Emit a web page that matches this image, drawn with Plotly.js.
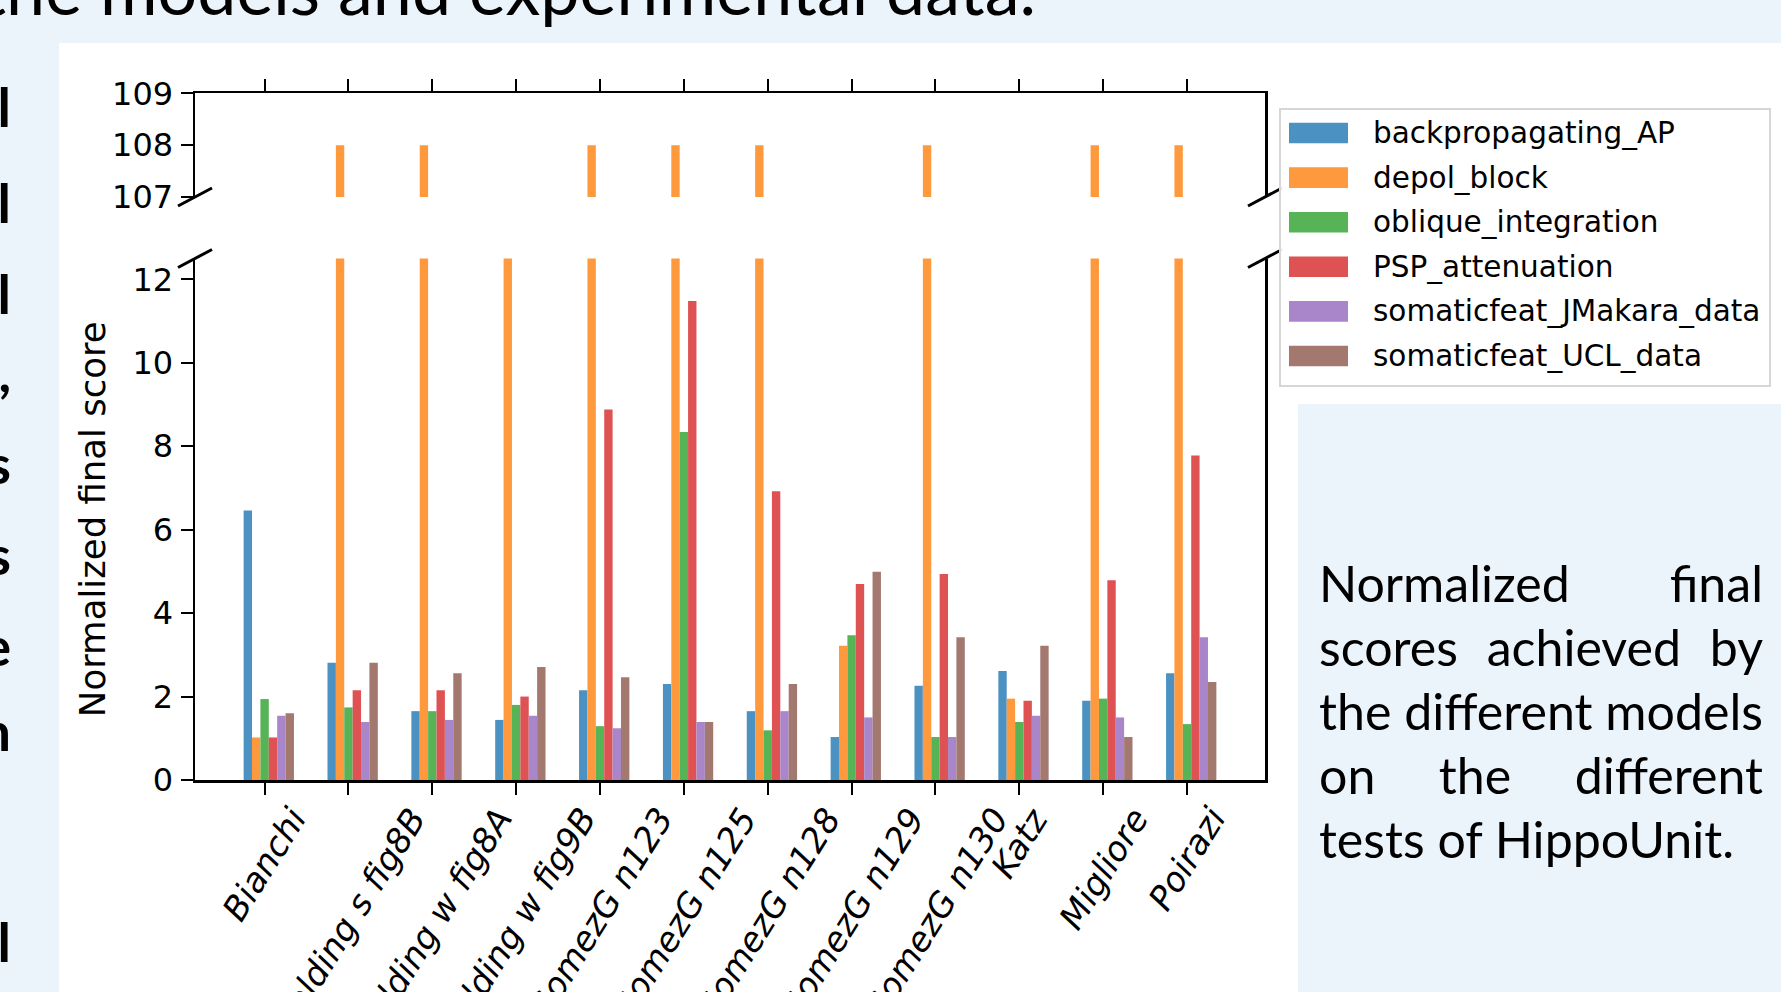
<!DOCTYPE html>
<html><head><meta charset="utf-8">
<script src="https://cdn.plot.ly/plotly-3.0.1.min.js"></script>
<style>
html,body{margin:0;padding:0;}
body{width:1781px;height:992px;overflow:hidden;position:relative;background:#EBF3FB;}
#chart{position:absolute;left:0;top:0;width:1781px;height:992px;}
.slide{position:absolute;font-family:Lato,'Noto Sans',sans-serif;color:#000;white-space:nowrap;}
</style></head><body>
<div id="chart"></div>
<script>
// ---------------- data ----------------
const categories = ['Bianchi','Golding s fig8B','Golding w fig8A','Golding w fig9B','GomezG n123','GomezG n125','GomezG n128','GomezG n129','GomezG n130','Katz','Migliore','Poirazi'];
const seriesNames = ['backpropagating_AP','depol_block','oblique_integration','PSP_attenuation','somaticfeat_JMakara_data','somaticfeat_UCL_data'];
const backpropagating_AP      = [6.46, 2.81, 1.65, 1.44, 2.15, 2.30, 1.65, 1.03, 2.26, 2.61, 1.90, 2.56];
const depol_block             = [1.02, 108, 108, 40, 108, 108, 108, 3.22, 108, 1.95, 108, 108];
const oblique_integration     = [1.94, 1.74, 1.65, 1.80, 1.29, 8.34, 1.19, 3.47, 1.03, 1.39, 1.95, 1.34];
const PSP_attenuation         = [1.02, 2.15, 2.15, 2.00, 8.88, 11.48, 6.92, 4.70, 4.94, 1.90, 4.79, 7.78];
const somaticfeat_JMakara_data= [1.54, 1.39, 1.44, 1.54, 1.24, 1.39, 1.65, 1.50, 1.03, 1.54, 1.50, 3.42];
const somaticfeat_UCL_data    = [1.60, 2.81, 2.56, 2.71, 2.46, 1.39, 2.30, 4.99, 3.42, 3.22, 1.03, 2.35];
const seriesValues = [backpropagating_AP, depol_block, oblique_integration, PSP_attenuation, somaticfeat_JMakara_data, somaticfeat_UCL_data];
const colors = ['#4B92C3','#FF993E','#56B356','#DE5253','#A985CA','#A3786F'];
const lowerTicks = [0,2,4,6,8,10,12];
const upperTicks = [107,108,109];
const yTitle = 'Normalized final score';
const sideLines = ['Normalized final','scores achieved by','the different models','on the different','tests of HippoUnit.'];
const slideTitle = 'the models and experimental data.';

// ---------------- geometry helpers ----------------
const W = 1781, H = 992;
const px = x => x / W;
const py = y => 1 - y / H;
const AXL = 195, AXR = 1265;
const LOW_BOT = 780, LOW_TOP = 258.5, UP_BOT = 197, UP_TOP = 93.3;

const traces = [];
seriesNames.forEach((name, k) => {
  const off = (k - 2) * 0.1 - 0.05;
  ['', '2'].forEach(s => {
    traces.push({
      type: 'bar', name: name, x: categories, y: seriesValues[k],
      xaxis: 'x' + s, yaxis: 'y' + s, width: 0.1, offset: off,
      marker: {color: colors[k], line: {width: 0}},
      showlegend: false, hoverinfo: 'x+y+name'
    });
  });
});

const axisCommon = {showline: true, linecolor: '#000', linewidth: 2.5, ticks: 'outside', ticklen: 12,
  tickwidth: 2, tickcolor: '#000', showgrid: false, zeroline: false, fixedrange: true};
const tickFont = {family: 'DejaVu Sans', size: 32, color: '#000'};

const shapes = [
  {type: 'rect', xref: 'paper', yref: 'paper', x0: px(59), x1: 1, y0: 0, y1: py(43), fillcolor: '#FFFFFF', line: {width: 0}, layer: 'below'},
  {type: 'rect', xref: 'paper', yref: 'paper', x0: px(1298), x1: 1, y0: 0, y1: py(404), fillcolor: '#EBF3FB', line: {width: 0}, layer: 'below'}
];
// break marks
[AXL, AXR].forEach(X => {
  [UP_BOT, LOW_TOP].forEach(Y => {
    shapes.push({type: 'line', xref: 'paper', yref: 'paper', x0: px(X - 17), y0: py(Y + 9), x1: px(X + 17), y1: py(Y - 9),
      line: {color: '#000', width: 3}, layer: 'above'});
  });
});
// custom legend
const LG = {x0: 1280, x1: 1770, y0: 109, y1: 386, row0: 133, step: 44.6};
shapes.push({type: 'rect', xref: 'paper', yref: 'paper', x0: px(LG.x0), x1: px(LG.x1), y0: py(LG.y1), y1: py(LG.y0),
  fillcolor: 'rgba(255,255,255,0.9)', line: {color: '#D6D6D6', width: 2}, layer: 'above'});
const annotations = [];
seriesNames.forEach((name, k) => {
  const yc = LG.row0 + LG.step * k;
  shapes.push({type: 'rect', xref: 'paper', yref: 'paper', x0: px(1289), x1: px(1348), y0: py(yc + 10.3), y1: py(yc - 10.3),
    fillcolor: colors[k], line: {width: 0}, layer: 'above'});
  annotations.push({xref: 'paper', yref: 'paper', x: px(1371), y: py(yc), xanchor: 'left', yanchor: 'middle', showarrow: false,
    text: name, font: {family: 'DejaVu Sans', size: 29.5, color: '#000'}});
});
// x tick labels (matplotlib style: rotated, centred under the tick)
categories.forEach(c => {
  annotations.push({xref: 'x', yref: 'paper', x: c, y: py(798), xanchor: 'center', yanchor: 'top', showarrow: false,
    textangle: -58, text: c, font: {family: 'DejaVu Sans', size: 34, color: '#000', style: 'italic'}});
});

const layout = {
  width: W, height: H, margin: {l: 0, r: 0, t: 0, b: 0, pad: 0},
  paper_bgcolor: 'rgba(0,0,0,0)', plot_bgcolor: '#FFFFFF',
  barmode: 'overlay', showlegend: false,
  xaxis: Object.assign({}, axisCommon, {domain: [px(AXL), px(AXR)], range: [-0.83, 11.93], type: 'category',
    anchor: 'y', showticklabels: false, automargin: false}),
  xaxis2: Object.assign({}, axisCommon, {domain: [px(AXL), px(AXR)], range: [-0.83, 11.93], type: 'category',
    anchor: 'y2', side: 'top', matches: 'x', showticklabels: false, automargin: false}),
  yaxis: Object.assign({}, axisCommon, {domain: [py(LOW_BOT), py(LOW_TOP)], range: [0, 12.5], anchor: 'x',
    tickvals: lowerTicks, mirror: true, tickfont: tickFont, ticklabelstandoff: 1, automargin: false,
    title: {text: yTitle, font: {family: 'DejaVu Sans', size: 35.5, color: '#000'}, standoff: 16}}),
  yaxis2: Object.assign({}, axisCommon, {domain: [py(UP_BOT), py(UP_TOP)], range: [107, 109], anchor: 'x2',
    tickvals: upperTicks, mirror: true, tickfont: tickFont, ticklabelstandoff: 1, automargin: false}),
  shapes: shapes, annotations: annotations
};
Plotly.newPlot('chart', traces, layout, {displayModeBar: false, staticPlot: true});

// ---------------- slide text (HTML) ----------------
const ctx = document.createElement('canvas').getContext('2d');
function metrics(txt, font) { ctx.font = font; return ctx.measureText(txt); }
function placeLine(txt, left, baseline, fs, opts) {
  const d = document.createElement('div');
  d.className = 'slide';
  d.textContent = txt;
  const L = Math.round(fs * 1.25);
  const m = metrics('Hg', fs + 'px Lato');
  const asc = m.fontBoundingBoxAscent, desc = m.fontBoundingBoxDescent;
  const off = (L - (asc + desc)) / 2 + asc;
  d.style.left = left + 'px';
  d.style.top = (baseline - off) + 'px';
  d.style.fontSize = fs + 'px';
  d.style.lineHeight = L + 'px';
  if (opts) Object.assign(d.style, opts);
  document.body.appendChild(d);
  return d;
}
// side paragraph (justified)
const sideFs = 100 * 444 / metrics('the different models', '100px Lato').width;
sideLines.forEach((t, i) => {
  const last = i === sideLines.length - 1;
  placeLine(t, 1319, 602 + 64 * i, sideFs, {width: '444px', whiteSpace: 'normal', textAlign: last ? 'left' : 'justify',
    textAlignLast: last ? 'left' : 'justify'});
});
// slide title, cut by the top edge
const tailW100 = metrics('models and experimental data.', '100px Lato').width;
const titleFs = 100 * 936 / tailW100;
const headW = metrics('the ', titleFs + 'px Lato').width;
placeLine(slideTitle, 100 - headW, 15, titleFs);
// slivers of the neighbouring text column at the left edge
const slivers = [['l',127],['l',223],['l',314],[',',392],['s',484],['s',575],['e',666],['n',751],['l',962]];
slivers.forEach(([ch, b]) => {
  const w = metrics(ch, 'bold 54px Lato').width;
  placeLine(ch, 11 - w, b, 54, {fontWeight: 'bold'});
});
</script>
</body></html>
